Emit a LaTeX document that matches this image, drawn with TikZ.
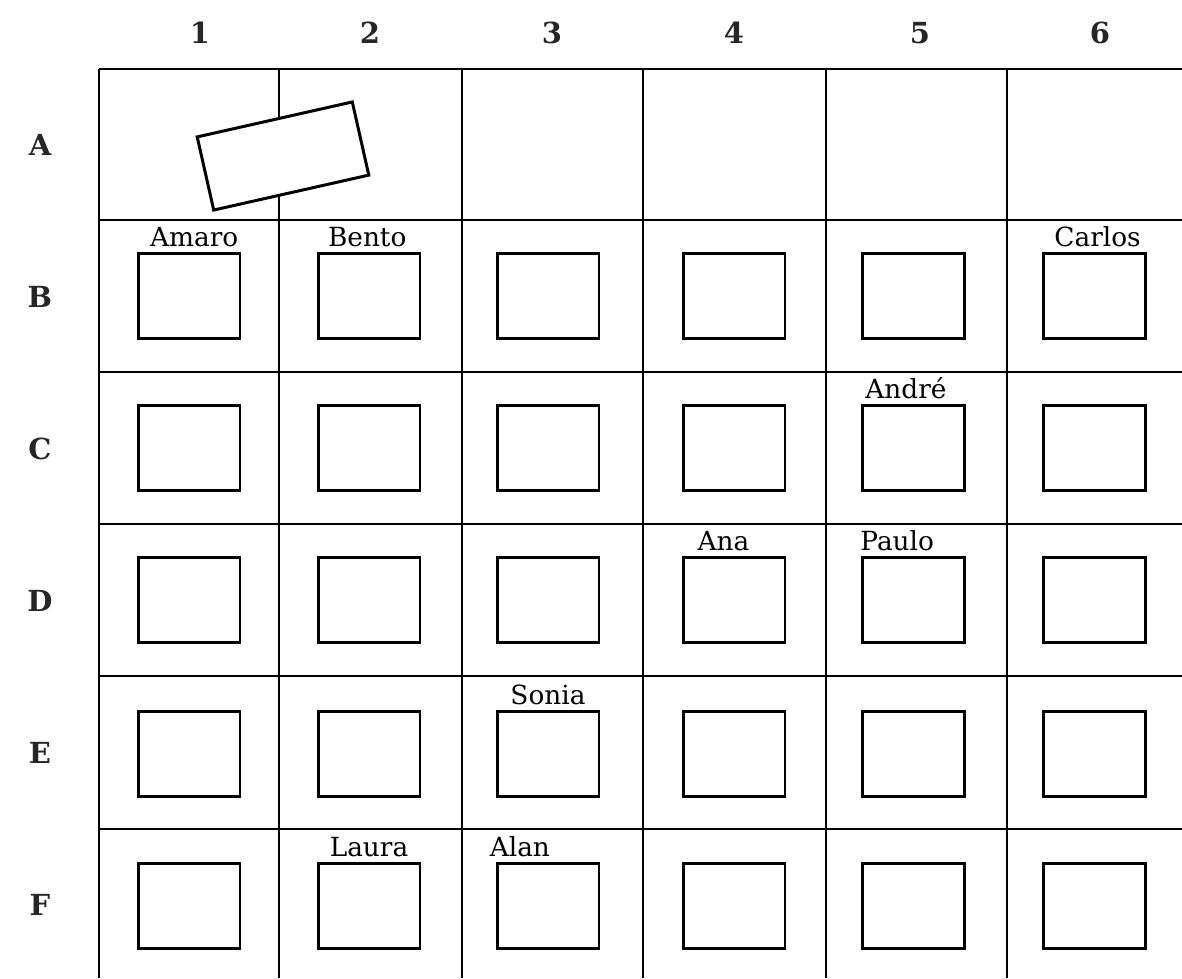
\documentclass[tikz,border=0pt]{standalone}
\usepackage{fontspec}
\setmainfont{DejaVu Serif}
\usetikzlibrary{positioning}

\begin{document}
\begin{tikzpicture}[x=0.02cm,y=-0.02cm,
        desk/.style={draw,line width=1.7pt,minimum width=2.04cm,minimum height=1.7cm,inner sep=0pt},
        student/.style={inner sep=0pt,font=\fontsize{15}{15}\selectfont},
        header/.style={font=\bfseries\fontsize{16.5}{16.5}\selectfont,text=black!85}]
        \useasboundingbox (0,0) rectangle (1182,978);

        % Grid
        \foreach \x in {99,279,462,643,826,1007}
            \draw[line width=1.1pt] (\x,69) -- (\x,978);
        \foreach \y in {69,220,372,524,676,829}
            \draw[line width=1.1pt] (99,\y) -- (1182,\y);

        % Column numbers and row letters
        \foreach \c/\x in {1/200,2/370,3/552,4/734,5/920,6/1100}
            \node[header] (col\c) at (\x,33) {\c};
        \foreach \r/\y in {A/145,B/297,C/449,D/601,E/753,F/905}
            \node[header] (row\r) at (40,\y) {\r};

        % Teacher's desk
        \node[draw,fill=white,line width=1.7pt,minimum width=3.18cm,minimum height=1.5cm,rotate=12.7] (mesa) at (283,156) {};

        % Desks
        \foreach \r/\y in {B/296,C/448,D/600,E/754,F/906}
            \foreach \c/\x in {1/189,2/369,3/548,4/734,5/913,6/1094}
                \node[desk] (\r\c) at (\x,\y) {};

        % Names
        \node[student,above=0.09cm of B1,xshift=3pt] (amaro) {Amaro};
        \node[student,above=0.09cm of B2,xshift=-1pt] (bento) {Bento};
        \node[student,above=0.09cm of B6,xshift=2pt] (carlos) {Carlos};
        \node[student,above=0.09cm of C5,xshift=-4pt] (andre) {André};
        \node[student,above=0.09cm of D4,xshift=-6pt] (ana) {Ana};
        \node[student,above=0.09cm of D5,xshift=-9pt] (paulo) {Paulo};
        \node[student,above=0.09cm of E3] (sonia) {Sonia};
        \node[student,above=0.09cm of F2] (laura) {Laura};
        \node[student,above=0.09cm of F3,xshift=-16pt] (alan) {Alan};
    \end{tikzpicture}
\end{document}
